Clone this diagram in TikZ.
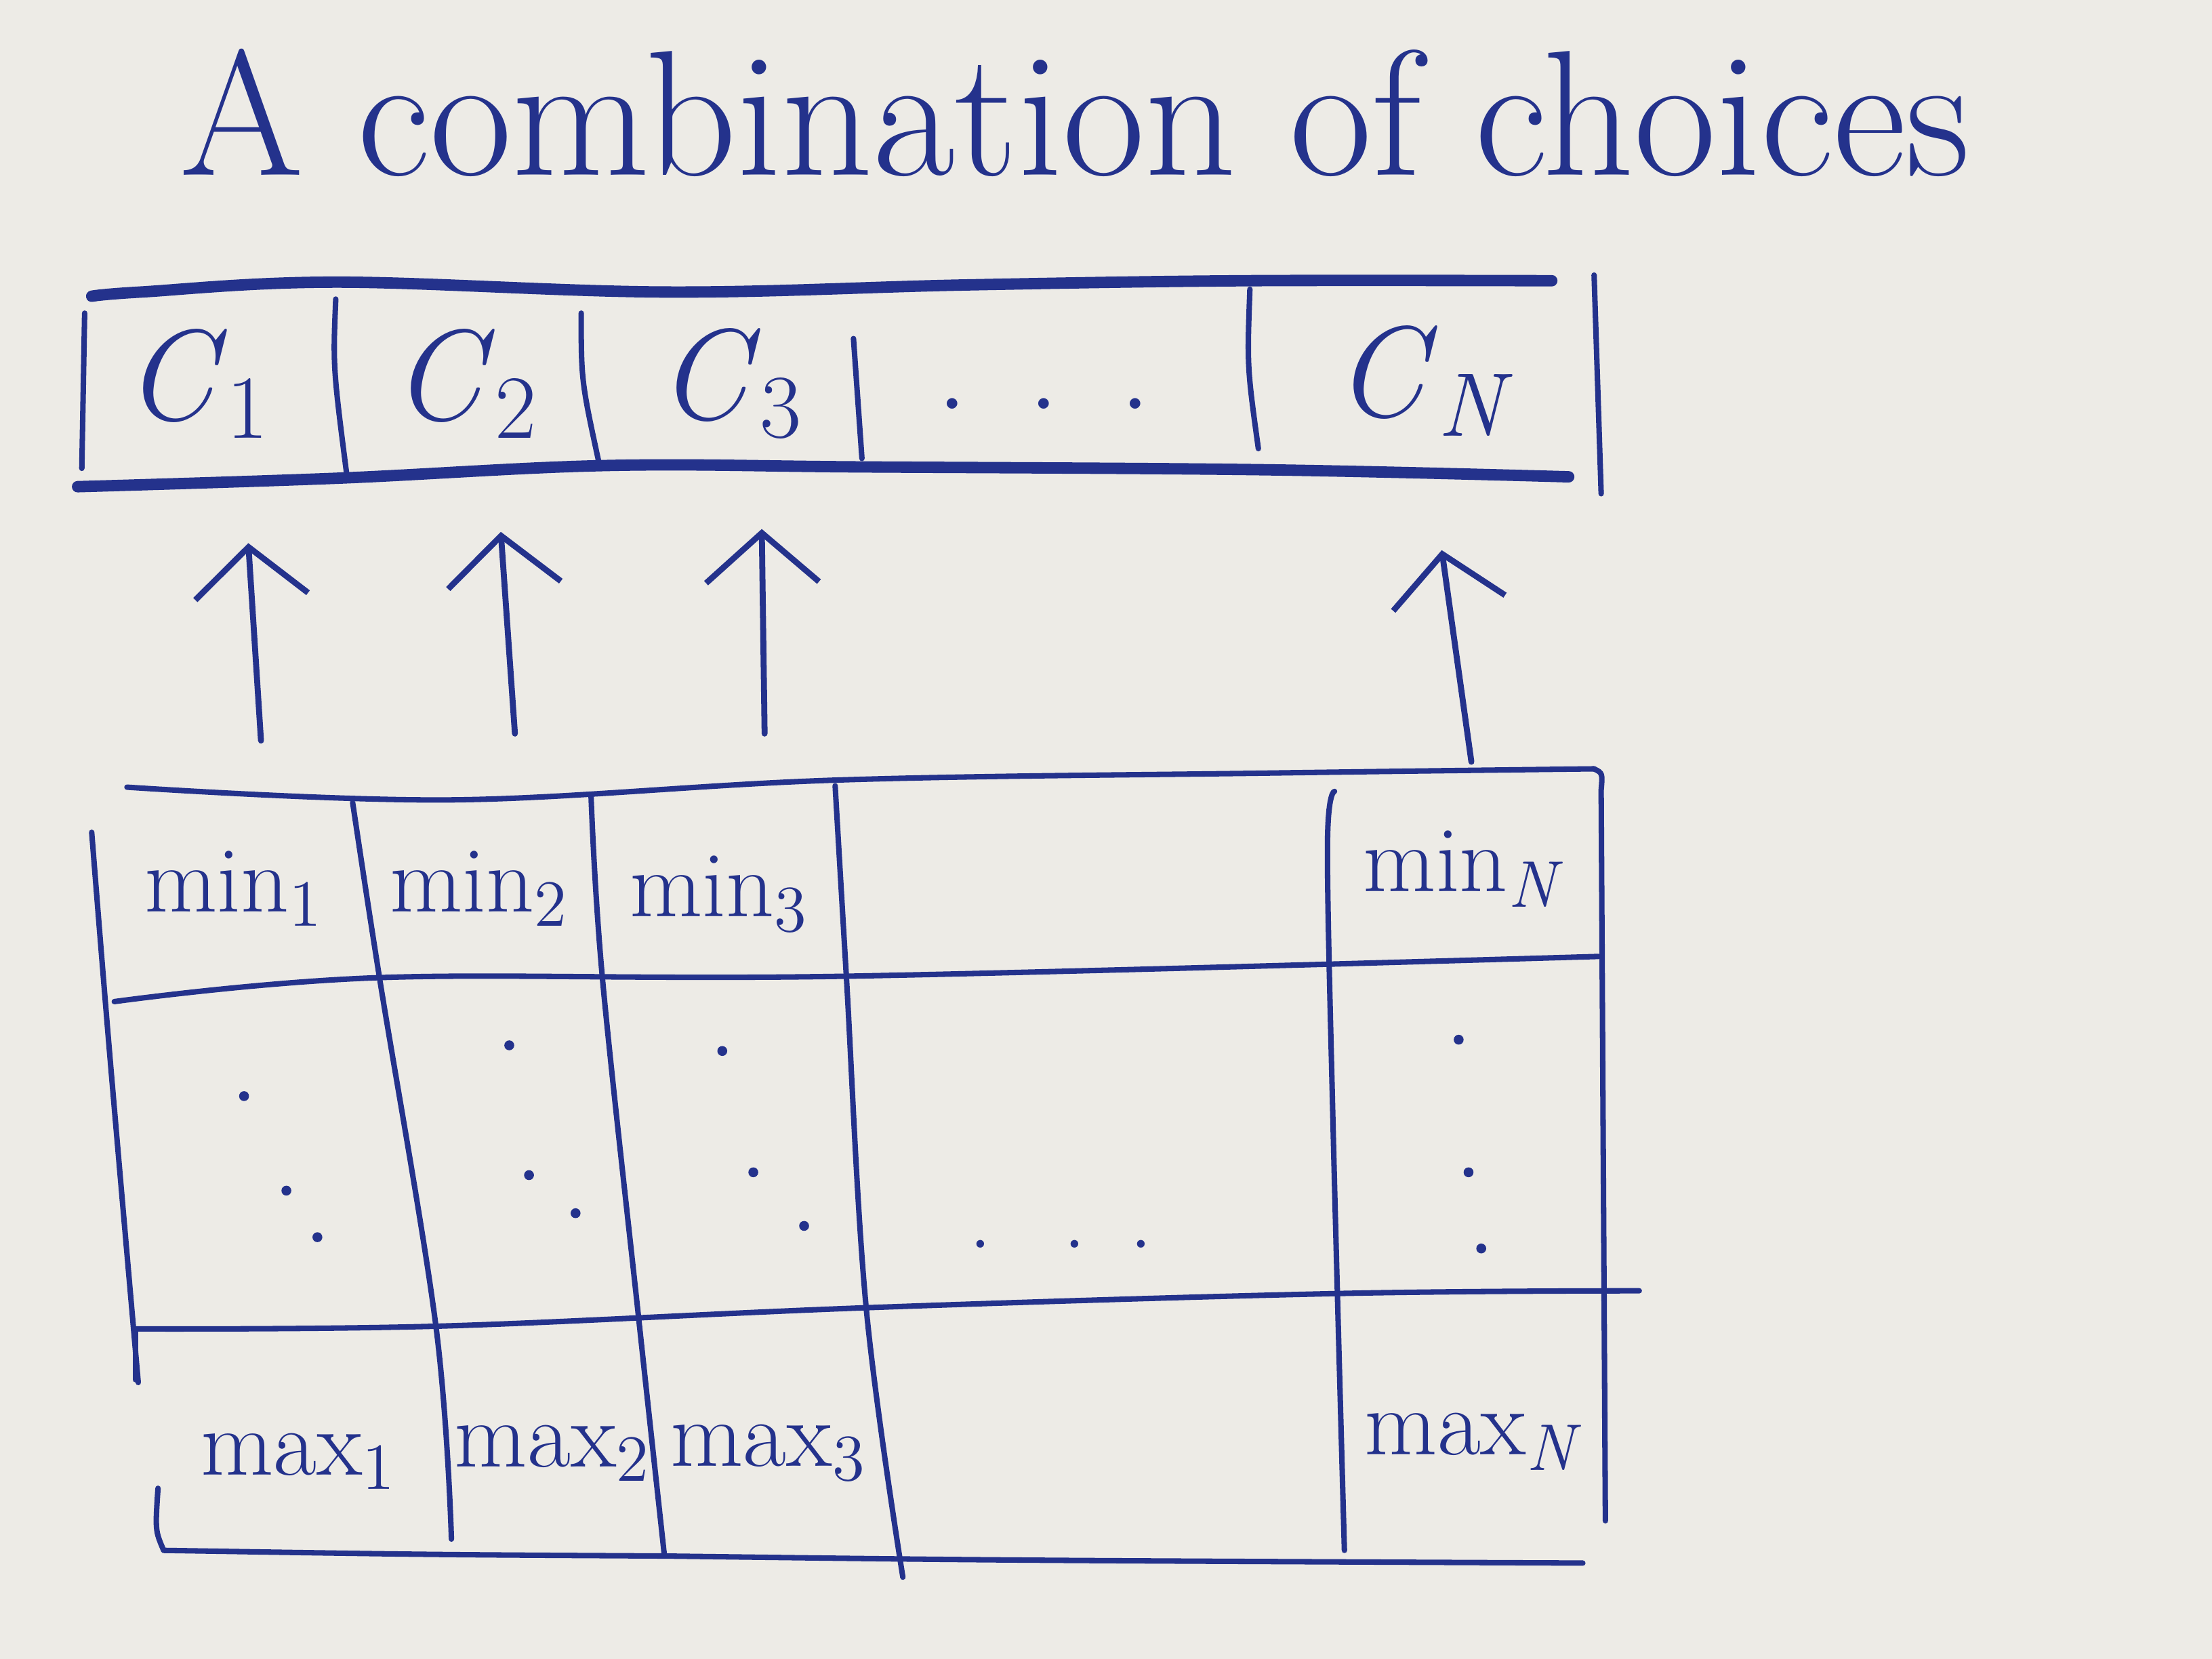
\documentclass[tikz,border=0pt]{standalone}
\usepackage{fontspec}
\usetikzlibrary{arrows.meta}
\definecolor{ink}{RGB}{36,50,140}
\definecolor{paper}{RGB}{237,235,230}
\newcommand{\sbs}[1]{\textsubscript{#1}}
\begin{document}
\begin{tikzpicture}[x=0.01cm,y=-0.01cm,
  inkline/.style={draw=ink,line width=1.1pt,line cap=round,line join=round},
  thickink/.style={draw=ink,line width=2.3pt,line cap=round,line join=round},
  titlelabel/.style={text=ink,font=\fontsize{36}{42}\selectfont,inner sep=0pt},
  celllabel/.style={text=ink,font=\fontsize{26}{30}\selectfont,inner sep=0pt},
  tablabel/.style={text=ink,font=\fontsize{19}{23}\selectfont,inner sep=0pt},
  choicearrow/.style={draw=ink,line width=1.2pt,line cap=round,
     -{Straight Barb[length=0.35cm,width=0.8cm,line width=1.2pt]}}]
\fill[paper] (0,0) rectangle (1568,1176);
\useasboundingbox (0,0) rectangle (1568,1176);

% title
\node[titlelabel,anchor=base] (title) at (762,124) {A combination of choices};

% ---------- top row of choices ----------
\draw[thickink] plot[smooth,tension=0.6] coordinates
  {(65,210) (100,207) (239,200) (472,207) (684,202) (882,199) (1100,199)};
\draw[thickink] plot[smooth,tension=0.6] coordinates
  {(55,345) (239,339) (430,330) (613,331) (896,333) (1112,338)};
\draw[inkline] (60,222) -- (58,332);
\draw[inkline] (238,212) .. controls (236,260) .. (246,338);
\draw[inkline] (412,222) .. controls (412,270) .. (425,330);
\draw[inkline] (605,240) -- (611,325);
\draw[inkline] (886,205) .. controls (884,260) .. (892,318);
\draw[inkline] (1130,195) -- (1135,350);

\node[celllabel] (c1) at (140,272) {\textit{C}\sbs{1}};
\node[celllabel] (c2) at (330,272) {\textit{C}\sbs{2}};
\node[celllabel] (c3) at (518,272) {\textit{C}\sbs{3}};
\node[celllabel] (cdots) at (740,286) {.\hspace{0.42cm}.\hspace{0.42cm}.};
\node[celllabel] (cN) at (1010,270) {\textit{C}\sbs{\textit{N}}};

% ---------- arrows ----------
\coordinate (t1) at (185,525);
\coordinate (h1) at (176,385);
\coordinate (t2) at (365,520);
\coordinate (h2) at (355,377);
\coordinate (t3) at (542,520);
\coordinate (h3) at (540,375);
\coordinate (t4) at (1043,540);
\coordinate (h4) at (1022,390);
\draw[choicearrow] (t1) -- (h1);
\draw[choicearrow] (t2) -- (h2);
\draw[choicearrow] (t3) -- (h3);
\draw[choicearrow] (t4) -- (h4);

% ---------- bottom table ----------
\draw[inkline] plot[smooth,tension=0.6] coordinates
  {(90,558) (320,567) (592,553) (900,548) (1130,545)};
\draw[inkline] plot[smooth,tension=0.6] coordinates
  {(81,710) (269,693) (600,692) (1133,678)};
\draw[inkline] plot[smooth,tension=0.6] coordinates
  {(96,942) (313,940) (614,927) (945,917) (1162,915)};
\draw[inkline] (96,942) -- (96,978);
\draw[inkline] (112,1055) .. controls (110,1085) .. (116,1099)
  .. controls (300,1102) .. (471,1103) .. controls (700,1106) .. (1122,1108);
% verticals
\draw[inkline] plot[smooth,tension=0.6] coordinates {(65,590) (78,750) (98,980)};
\draw[inkline] plot[smooth,tension=0.6] coordinates {(250,569) (269,693) (309,940) (320,1091)};
\draw[inkline] plot[smooth,tension=0.6] coordinates {(419,565) (427,693) (453,937) (471,1103)};
\draw[inkline] plot[smooth,tension=0.6] coordinates {(592,557) (600,693) (614,927) (640,1118)};
\draw[inkline] plot[smooth,tension=0.6] coordinates {(946,561) (941,600) (945,800) (953,1099)};
\draw[inkline] (1130,545) .. controls (1136,548) .. (1135,560) -- (1138,1078);

\node[tablabel] (min1) at (166,630) {min\sbs{1}};
\node[tablabel] (min2) at (340,630) {min\sbs{2}};
\node[tablabel] (min3) at (510,634) {min\sbs{3}};
\node[tablabel] (minN) at (1038,616) {min\sbs{\textit{N}}};
\node[tablabel] (max1) at (212,1036) {max\sbs{1}};
\node[tablabel] (max2) at (392,1030) {max\sbs{2}};
\node[tablabel] (max3) at (545,1030) {max\sbs{3}};
\node[tablabel] (maxN) at (1045,1022) {max\sbs{\textit{N}}};

% dots in the cells
\foreach \p in {(173,777),(203,844),(225,877),
                (361,741),(375,833),(408,860),
                (512,745),(534,831),(570,869),
                (1034,737),(1041,831),(1050,885)}
  \fill[ink] \p circle (0.035cm);
\node[tablabel] (mdots) at (752,882) {.\hspace{0.5cm}.\hspace{0.3cm}.};
\end{tikzpicture}
\end{document}
